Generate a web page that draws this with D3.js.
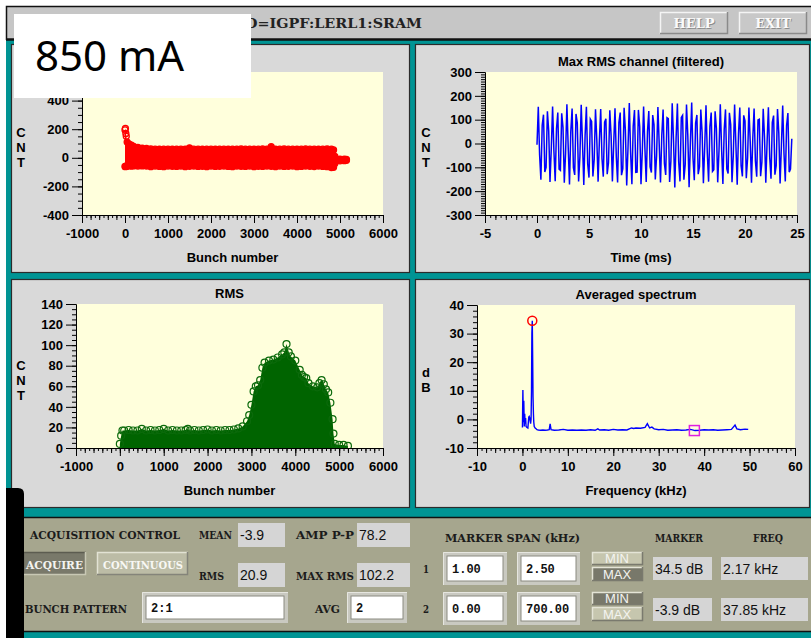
<!DOCTYPE html>
<html>
<head>
<meta charset="utf-8">
<script src="https://cdn.jsdelivr.net/npm/d3@7"></script>
<style>
  body { margin: 0; background: #fff; }
  svg { display: block; }
</style>
</head>
<body>
<div id="screen"></div>
<script>
// DATA
const bunchTicks = [-1000, 0, 1000, 2000, 3000, 4000, 5000, 6000];
const cntTicks = [-400, -200, 0, 200, 400];
const timeTicks = [-5, 0, 5, 10, 15, 20, 25];
const cntTicksFiltered = [-300, -200, -100, 0, 100, 200, 300];
const rmsTicks = [0, 20, 40, 60, 80, 100, 120, 140];
const freqTicks = [-10, 0, 10, 20, 30, 40, 50, 60];
const dbTicks = [-10, 0, 10, 20, 30, 40];

// mean per bunch, read as an upper / lower envelope of the red cloud
const meanBunch = [0, 10, 20, 30, 50, 100, 150, 200, 300, 400, 500, 600, 700, 800, 900, 1000,
    1100, 1200, 1300, 1400, 1500, 1600, 1700, 1800, 1900, 2000, 2100, 2200, 2300, 2400, 2500,
    2600, 2700, 2800, 2900, 3000, 3100, 3200, 3300, 3400, 3500, 3600, 3700, 3800, 3900, 4000,
    4100, 4200, 4300, 4400, 4500, 4600, 4700, 4800, 4850, 4880, 4900, 5000, 5100, 5150];
const meanUpper = [195, 205, 170, 150, 110, 95, 88, 80, 72, 68, 65, 62, 60, 61, 60, 60,
    61, 60, 60, 61, 70, 60, 60, 61, 60, 60, 61, 60, 60, 61, 60,
    60, 62, 60, 60, 61, 60, 62, 60, 78, 61, 60, 62, 60, 60, 61,
    60, 62, 60, 60, 61, 60, 62, 60, 55, 10, -8, -10, -10, -12];
const meanLower = [-60, -62, -58, -60, -58, -57, -58, -57, -58, -57, -58, -62, -58, -60, -62, -58,
    -59, -60, -58, -62, -59, -58, -60, -59, -62, -58, -60, -59, -58, -60, -62,
    -58, -59, -60, -58, -62, -59, -60, -58, -59, -62, -58, -60, -59, -58, -62,
    -60, -58, -59, -61, -58, -60, -62, -68, -66, -40, -20, -21, -20, -18];

// max RMS channel, filtered (one sample every 0.125 ms)
const timeStep = 0.125;
const maxRmsCnt = [-5, 154, -47, -152, 76, 121, -120, -100, 135, 53, -161, -21, 155, -31, -158, 62,
    130, -108, -113, 127, 68, -165, -40, 165, -16, -172, 50, 147, -101, -132, 124, 87,
    -159, -56, 162, 2, -174, 33, 154, -86, -143, 102, 92, -138, -67, 144, 17, -160,
    14, 145, -64, -139, 90, 104, -129, -81, 139, 32, -159, -1, 148, -55, -164, 88,
    130, -133, -106, 150, 54, -176, -19, 170, -38, -171, 72, 140, -121, -120, 141, 71,
    -171, -34, 155, -19, -161, 50, 136, -98, -122, 119, 79, -151, -50, 153, -2, -164,
    35, 143, -84, -132, 108, 104, -161, -73, 169, 16, -185, 22, 168, -78, -159, 109,
    118, -152, -89, 164, 34, -184, 3, 172, -61, -154, 86, 120, -129, -97, 143, 47,
    -167, -14, 160, -40, -160, 71, 130, -117, -110, 135, 63, -163, -31, 165, -24, -170,
    58, 143, -107, -126, 129, 80, -162, -49, 164, -6, -173, 41, 151, -93, -138, 118,
    95, -146, -61, 151, 10, -165, 23, 147, -73, -139, 99, 102, -137, -77, 146, 26,
    -165, 6, 152, -58, -148, 89, 117, -131, -93, 145, 44, -168, -10, 159, -43, -159,
    75, 128, -120, -107, 20];

// RMS per bunch (top of the green cloud)
const rmsBunch = [0, 30, 60, 100, 200, 300, 400, 500, 600, 700, 800, 900, 1000, 1100, 1200,
    1300, 1400, 1500, 1550, 1600, 1700, 1800, 1900, 2000, 2100, 2200, 2300, 2400, 2500, 2600,
    2700, 2800, 2900, 2950, 3000, 3050, 3100, 3150, 3200, 3250, 3300, 3400, 3500, 3600, 3700,
    3750, 3800, 3850, 3900, 4000, 4100, 4150, 4200, 4250, 4300, 4400, 4500, 4550, 4600, 4650,
    4700, 4750, 4800, 4850, 4870, 4900, 5000, 5100, 5200];
const rmsCnt = [4, 12, 17, 17, 17.5, 17, 17, 18.5, 17, 17.5, 17, 17.5, 18.5, 17, 17.5,
    17, 17, 17.5, 18.5, 17, 17.5, 17, 17.5, 18, 17, 17.5, 17, 17.5, 17.5, 18,
    19, 21, 26, 32, 42, 55, 60, 61, 66, 78, 83, 85, 86, 88, 91,
    93, 101, 93, 89, 85, 76, 71, 69, 68, 63, 60, 59, 63, 66, 62,
    57, 54, 44, 28, 14, 4, 3, 3, 2];

// averaged spectrum
const specFreq = [0, 0.1, 0.2, 0.3, 0.4, 0.5, 0.6, 0.7, 0.8, 1.0, 1.2, 1.4, 1.5, 1.6, 1.8, 1.9,
    2.0, 2.08, 2.17, 2.25, 2.33, 2.42, 2.5, 2.6, 2.8, 3.0, 3.2, 3.5, 4, 4.5, 5, 5.5, 5.9, 6.1,
    6.3, 7, 8, 9, 10, 11, 12, 13, 14, 15, 16, 16.6, 17, 18, 19, 20, 21, 22, 23, 24, 24.5, 25,
    26, 27, 27.5, 28, 28.5, 29, 30, 31, 32, 33, 34, 35, 36, 37, 38, 39, 40, 41, 42, 43, 44,
    45, 46, 46.8, 47.2, 48, 49, 49.7];
const specDb = [-2.8, 10.3, -1, 6.5, -2.5, 2, -1.5, 0.5, -2.5, -2.8, -3, 0.8, 1, 0.5, -1.5, 0,
    10, 30, 34.5, 22, 8, 2, -1, -2.5, -3, -3.3, -3.6, -3.7, -3.8, -3.7, -3.8, -3.7, -3.6, -1.6,
    -3.6, -3.8, -3.7, -3.5, -3.8, -3.7, -3.8, -3.7, -3.8, -3.6, -3.8, -3.3, -3.7, -3.6, -3.8, -3.5, -3.7, -3.6, -3.7, -3.0, -3.2, -3.0,
    -3.1, -2.8, -1.5, -3.0, -2.7, -3.3, -3.6, -3.5, -3.8, -3.7, -3.6, -3.8, -3.7, -3.5, -3.9, -3.8, -3.6, -3.7, -3.6, -3.8, -3.7,
    -3.6, -3.5, -2.0, -3.3, -3.6, -3.4, -3.5];

// markers and read-backs
const markerFreq = [2.17, 37.85];
const markerDb = [34.5, -3.9];
const markerLevelText = ["34.5 dB", "-3.9 dB"];
const markerFreqText = ["2.17 kHz", "37.85 kHz"];
const spanLow = ["1.00", "0.00"];
const spanHigh = ["2.50", "700.00"];
const statLabels = ["MEAN", "AMP P-P", "RMS", "MAX RMS"];
const statValues = ["-3.9", "78.2", "20.9", "102.2"];

// STYLE
const teal = "#009494";
const panelBg = "#d9d9d9";
const plotBg = "#ffffdc";
const olive = "#a6a68e";
const sans = "'Liberation Sans', Arial, sans-serif";
const serif = "'DejaVu Serif', 'Liberation Serif', serif";

const svg = d3.select("#screen").append("svg")
    .attr("width", 811)
    .attr("height", 638);

svg.append("rect").attr("width", 811).attr("height", 638).attr("fill", "#fff");
svg.append("rect").attr("x", 6).attr("y", 6).attr("width", 805).attr("height", 632).attr("fill", teal);

// title bar
svg.append("rect").attr("x", 6).attr("y", 6).attr("width", 805).attr("height", 33).attr("fill", "#c6c6c6");
svg.append("path").attr("d", "M6.5,40 V6.5 H811").attr("fill", "none").attr("stroke", "#111").attr("stroke-width", 1.5);
svg.append("line").attr("x1", 6).attr("x2", 811).attr("y1", 39.5).attr("y2", 39.5).attr("stroke", "#111").attr("stroke-width", 2.5);
svg.append("text")
    .attr("x", 245).attr("y", 28)
    .attr("textLength", 177).attr("lengthAdjust", "spacingAndGlyphs")
    .attr("font-family", serif).attr("font-weight", "bold").attr("font-size", 13).attr("fill", "#222")
    .text("D=IGPF:LERL1:SRAM");

function bevel(x, y, w, h, fill, light, dark) {
    svg.append("rect").attr("x", x).attr("y", y).attr("width", w).attr("height", h).attr("fill", fill);
    svg.append("path").attr("d", `M${x + 0.5},${y + h} V${y + 0.5} H${x + w}`)
        .attr("fill", "none").attr("stroke", light).attr("stroke-width", 1.5);
    svg.append("path").attr("d", `M${x + w - 0.5},${y} V${y + h - 0.5} H${x}`)
        .attr("fill", "none").attr("stroke", dark).attr("stroke-width", 1.5);
}

[["HELP", 660], ["EXIT", 739]].forEach(([t, x]) => {
    bevel(x, 12, 68, 22, "#c8c8c8", "#f4f4f4", "#8a8a8a");
    svg.append("text").attr("x", x + 35).attr("y", 29).attr("text-anchor", "middle")
        .attr("font-family", serif).attr("font-weight", "bold").attr("font-size", 13)
        .attr("fill", "#8c8c8c")
        .text(t);
    svg.append("text").attr("x", x + 34).attr("y", 28).attr("text-anchor", "middle")
        .attr("font-family", serif).attr("font-weight", "bold").attr("font-size", 13)
        .attr("fill", "#fafafa")
        .text(t);
});

// panels
[[12, 45, 398], [416, 45, 394], [12, 280, 398], [416, 280, 394]].forEach(([x, y, w]) => {
    svg.append("rect").attr("x", x - 0.5).attr("y", y - 0.5).attr("width", w).attr("height", 228)
        .attr("fill", panelBg).attr("stroke", "#2b2b2b").attr("stroke-width", 1.2);
});

let clipId = 0;

function plot(cfg) {
    const x = d3.scaleLinear().domain(cfg.xDomain).range([cfg.left, cfg.right]);
    const y = d3.scaleLinear().domain(cfg.yDomain).range([cfg.bottom, cfg.top]);
    const g = svg.append("g");

    g.append("rect")
        .attr("x", cfg.left).attr("y", cfg.top)
        .attr("width", cfg.right - cfg.left).attr("height", cfg.bottom - cfg.top)
        .attr("fill", plotBg);

    const id = "clip" + (clipId++);
    svg.append("clipPath").attr("id", id)
        .append("rect")
        .attr("x", cfg.left).attr("y", cfg.top)
        .attr("width", cfg.right - cfg.left).attr("height", cfg.bottom - cfg.top);

    const marks = g.append("g").attr("clip-path", `url(#${id})`);
    const axes = g.append("g");

    const xr = d => d3.range(cfg.xDomain[0], cfg.xDomain[1] + 1e-9, d);
    const yr = d => d3.range(cfg.yDomain[0], cfg.yDomain[1] + 1e-9, d);

    // x: minor, mid, major
    axes.append("g").attr("transform", `translate(0,${cfg.bottom})`)
        .call(d3.axisBottom(x).tickValues(xr(cfg.xMinor)).tickSize(3).tickSizeOuter(0).tickFormat(""));
    axes.append("g").attr("transform", `translate(0,${cfg.bottom})`)
        .call(d3.axisBottom(x).tickValues(xr(cfg.xMinor * 2)).tickSize(5).tickSizeOuter(0).tickFormat(""));
    axes.append("g").attr("transform", `translate(0,${cfg.bottom})`)
        .call(d3.axisBottom(x).tickValues(cfg.xTicks).tickSize(8).tickPadding(6).tickSizeOuter(0).tickFormat(d => d));

    axes.append("g").attr("transform", `translate(${cfg.left},0)`)
        .call(d3.axisLeft(y).tickValues(yr(cfg.yMinor)).tickSize(4).tickSizeOuter(0).tickFormat(""));
    axes.append("g").attr("transform", `translate(${cfg.left},0)`)
        .call(d3.axisLeft(y).tickValues(cfg.yTicks).tickSize(10).tickPadding(3).tickSizeOuter(0).tickFormat(d => d));

    axes.selectAll("text")
        .attr("font-family", sans).attr("font-weight", "bold").attr("font-size", 13).attr("fill", "#000");
    axes.selectAll("path, line").attr("stroke", "#000");

    const cx = (cfg.left + cfg.right) / 2;
    if (cfg.title) {
        g.append("text").attr("x", cx).attr("y", cfg.top - 6).attr("text-anchor", "middle")
            .attr("font-family", sans).attr("font-weight", "bold").attr("font-size", 13)
            .text(cfg.title);
    }
    g.append("text").attr("x", cx).attr("y", cfg.bottom + 47).attr("text-anchor", "middle")
        .attr("font-family", sans).attr("font-weight", "bold").attr("font-size", 13)
        .text(cfg.xLabel);
    g.selectAll(".ylab")
        .data(cfg.yLabel.split(""))
        .join("text")
        .attr("x", cfg.yLabelX)
        .attr("y", (d, i) => cfg.yLabelY + i * 15)
        .attr("text-anchor", "middle")
        .attr("font-family", sans).attr("font-weight", "bold").attr("font-size", 13)
        .text(d => d);

    return {x, y, marks};
}

// TOP LEFT: bunch mean
const tl = plot({
    left: 82, right: 383, top: 72, bottom: 215,
    xDomain: [-1000, 6000], yDomain: [-400, 600],
    xTicks: bunchTicks, yTicks: cntTicks, xMinor: 100, yMinor: 50,
    xLabel: "Bunch number", yLabel: "CNT", yLabelX: 21, yLabelY: 137
});
tl.marks.append("path")
    .attr("d", d3.area()
        .x((d, i) => tl.x(meanBunch[i]))
        .y0((d, i) => tl.y(meanLower[i]))
        .y1(d => tl.y(d))(meanUpper))
    .attr("fill", "#ff0000");
tl.marks.selectAll(".up")
    .data(meanUpper.concat(meanLower))
    .join("circle")
    .attr("cx", (d, i) => tl.x(meanBunch[i % meanBunch.length]))
    .attr("cy", d => tl.y(d))
    .attr("r", 3)
    .attr("fill", (d, i) => (i % meanBunch.length) < 4 ? "none" : "#ff0000")
    .attr("stroke", "#ff0000")
    .attr("stroke-width", 1.3);

// TOP RIGHT: max RMS channel
const tr = plot({
    left: 485, right: 797, top: 72, bottom: 215,
    xDomain: [-5, 25], yDomain: [-300, 300],
    xTicks: timeTicks, yTicks: cntTicksFiltered, xMinor: 0.5, yMinor: 10,
    title: "Max RMS channel (filtered)",
    xLabel: "Time (ms)", yLabel: "CNT", yLabelX: 426, yLabelY: 137
});
tr.marks.append("path")
    .attr("d", d3.line()
        .x((d, i) => tr.x(i * timeStep))
        .y(d => tr.y(d))(maxRmsCnt))
    .attr("fill", "none")
    .attr("stroke", "#0000ff")
    .attr("stroke-width", 1.5);

// BOTTOM LEFT: RMS
const bl = plot({
    left: 76, right: 383, top: 304, bottom: 448,
    xDomain: [-1000, 6000], yDomain: [0, 140],
    xTicks: bunchTicks, yTicks: rmsTicks, xMinor: 100, yMinor: 5,
    title: "RMS",
    xLabel: "Bunch number", yLabel: "CNT", yLabelX: 21, yLabelY: 370
});
bl.marks.append("path")
    .attr("d", d3.area()
        .x((d, i) => bl.x(rmsBunch[i]))
        .y0(bl.y(0))
        .y1(d => bl.y(d))(rmsCnt))
    .attr("fill", "#006400");
bl.marks.selectAll("circle")
    .data(rmsCnt)
    .join("circle")
    .attr("cx", (d, i) => bl.x(rmsBunch[i]))
    .attr("cy", d => bl.y(d))
    .attr("r", 3.5)
    .attr("fill", "none")
    .attr("stroke", "#0b6a0b")
    .attr("stroke-width", 1.2);

// BOTTOM RIGHT: averaged spectrum
const br = plot({
    left: 477, right: 795, top: 305, bottom: 448,
    xDomain: [-10, 60], yDomain: [-10, 40],
    xTicks: freqTicks, yTicks: dbTicks, xMinor: 1, yMinor: 2,
    title: "Averaged spectrum",
    xLabel: "Frequency (kHz)", yLabel: "dB", yLabelX: 426, yLabelY: 377
});
br.marks.append("path")
    .attr("d", d3.line()
        .x((d, i) => br.x(specFreq[i]))
        .y(d => br.y(d))(specDb))
    .attr("fill", "none")
    .attr("stroke", "#0000ff")
    .attr("stroke-width", 1.4);
br.marks.append("circle")
    .attr("cx", br.x(markerFreq[0])).attr("cy", br.y(markerDb[0]))
    .attr("r", 4.5).attr("fill", "none").attr("stroke", "#ff0000").attr("stroke-width", 1.5);
br.marks.append("rect")
    .attr("x", br.x(markerFreq[1]) - 5).attr("y", br.y(markerDb[1]) - 5)
    .attr("width", 10).attr("height", 10)
    .attr("fill", "none").attr("stroke", "#e020e0").attr("stroke-width", 1.5);

// CONTROL PANEL
svg.append("rect").attr("x", 6).attr("y", 517).attr("width", 805).attr("height", 115).attr("fill", olive);
svg.append("line").attr("x1", 6).attr("x2", 811).attr("y1", 517.5).attr("y2", 517.5).attr("stroke", "#111").attr("stroke-width", 1.5);
svg.append("line").attr("x1", 6).attr("x2", 811).attr("y1", 631.5).attr("y2", 631.5).attr("stroke", "#111").attr("stroke-width", 1.5);

function label(t, x, y, len, fill) {
    svg.append("text").attr("x", x).attr("y", y)
        .attr("textLength", len).attr("lengthAdjust", "spacingAndGlyphs")
        .attr("font-family", serif).attr("font-weight", "bold").attr("font-size", 11)
        .attr("fill", fill || "#1b1b1b")
        .text(t);
}

function readout(t, x, y, w, h) {
    svg.append("rect").attr("x", x).attr("y", y).attr("width", w).attr("height", h).attr("fill", "#d5d5d5");
    svg.append("text").attr("x", x + 2).attr("y", y + h / 2 + 5)
        .attr("font-family", sans).attr("font-size", 14).attr("fill", "#111")
        .text(t);
}

function field(t, x, y, w, h) {
    svg.append("rect").attr("x", x).attr("y", y).attr("width", w).attr("height", h).attr("fill", "#c9c9c1");
    svg.append("path").attr("d", `M${x + 0.5},${y + h} V${y + 0.5} H${x + w}`)
        .attr("fill", "none").attr("stroke", "#e6e6e0").attr("stroke-width", 1);
    svg.append("rect").attr("x", x + 4).attr("y", y + 4).attr("width", w - 8).attr("height", h - 8)
        .attr("fill", "#fff").attr("stroke", "#8a8a80").attr("stroke-width", 1);
    svg.append("text").attr("x", x + 9).attr("y", y + h / 2 + 4)
        .attr("font-family", "'Liberation Mono', 'DejaVu Sans Mono', monospace")
        .attr("font-weight", "bold").attr("font-size", 12).attr("fill", "#111")
        .text(t);
}

label("ACQUISITION CONTROL", 30, 539, 150);
label(statLabels[0], 199, 539, 33);
label(statLabels[1], 296, 539, 58);
label(statLabels[2], 199, 580, 25);
label(statLabels[3], 296, 580, 58);
readout(statValues[0], 238, 523, 47, 24);
readout(statValues[1], 357, 523, 53, 24);
readout(statValues[2], 238, 563, 47, 24);
readout(statValues[3], 357, 563, 53, 24);

bevel(23, 552, 63, 23, "#79796a", "#5c5c50", "#c8c8b4");
label("ACQUIRE", 26, 569, 57, "#f4f4f0");
bevel(97, 552, 91, 23, "#bcbca6", "#e2e2d4", "#84847a");
label("CONTINUOUS", 103, 569, 80, "#f8f8f4");

label("BUNCH PATTERN", 25, 613, 102);
field("2:1", 142, 592, 146, 31);
label("AVG", 315, 613, 25);
field("2", 347, 592, 60, 31);

label("MARKER SPAN (kHz)", 445, 542, 135);
label("MARKER", 655, 542, 48);
label("FREQ", 753, 542, 30);

[0, 1].forEach(i => {
    const top = 552 + i * 40;
    label(String(i + 1), 423, top + 21, 6);
    field(spanLow[i], 443, top, 64, 33);
    field(spanHigh[i], 517, top, 63, 33);

    const minDark = i === 1;
    bevel(592, top, 51, 13, minDark ? "#78786a" : "#c6c6ae", "#e4e4d6", "#7a7a6e");
    bevel(592, top + 15, 51, 14, minDark ? "#c6c6ae" : "#78786a", "#e4e4d6", "#7a7a6e");
    svg.append("text").attr("x", 617).attr("y", top + 11).attr("text-anchor", "middle")
        .attr("font-family", sans).attr("font-size", 13).attr("fill", "#f4f4f0").text("MIN");
    svg.append("text").attr("x", 617).attr("y", top + 27).attr("text-anchor", "middle")
        .attr("font-family", sans).attr("font-size", 13).attr("fill", "#f4f4f0").text("MAX");

    readout(markerLevelText[i], 653, top + 5 + i * 1, 59, 23);
    readout(markerFreqText[i], 721, top + 5 + i * 1, 87, 23);
});

// left edge block and current label
svg.append("path")
    .attr("d", "M6,488 H18 Q24,488 24,494 V638 H6 Z")
    .attr("fill", "#000");

svg.append("rect").attr("x", 14).attr("y", 14).attr("width", 237).attr("height", 84).attr("fill", "#fff");
svg.append("text").attr("x", 35).attr("y", 71)
    .attr("font-family", "'Noto Sans', 'Open Sans', sans-serif").attr("font-size", 42).attr("fill", "#000")
    .text("850 mA");
</script>
</body>
</html>
